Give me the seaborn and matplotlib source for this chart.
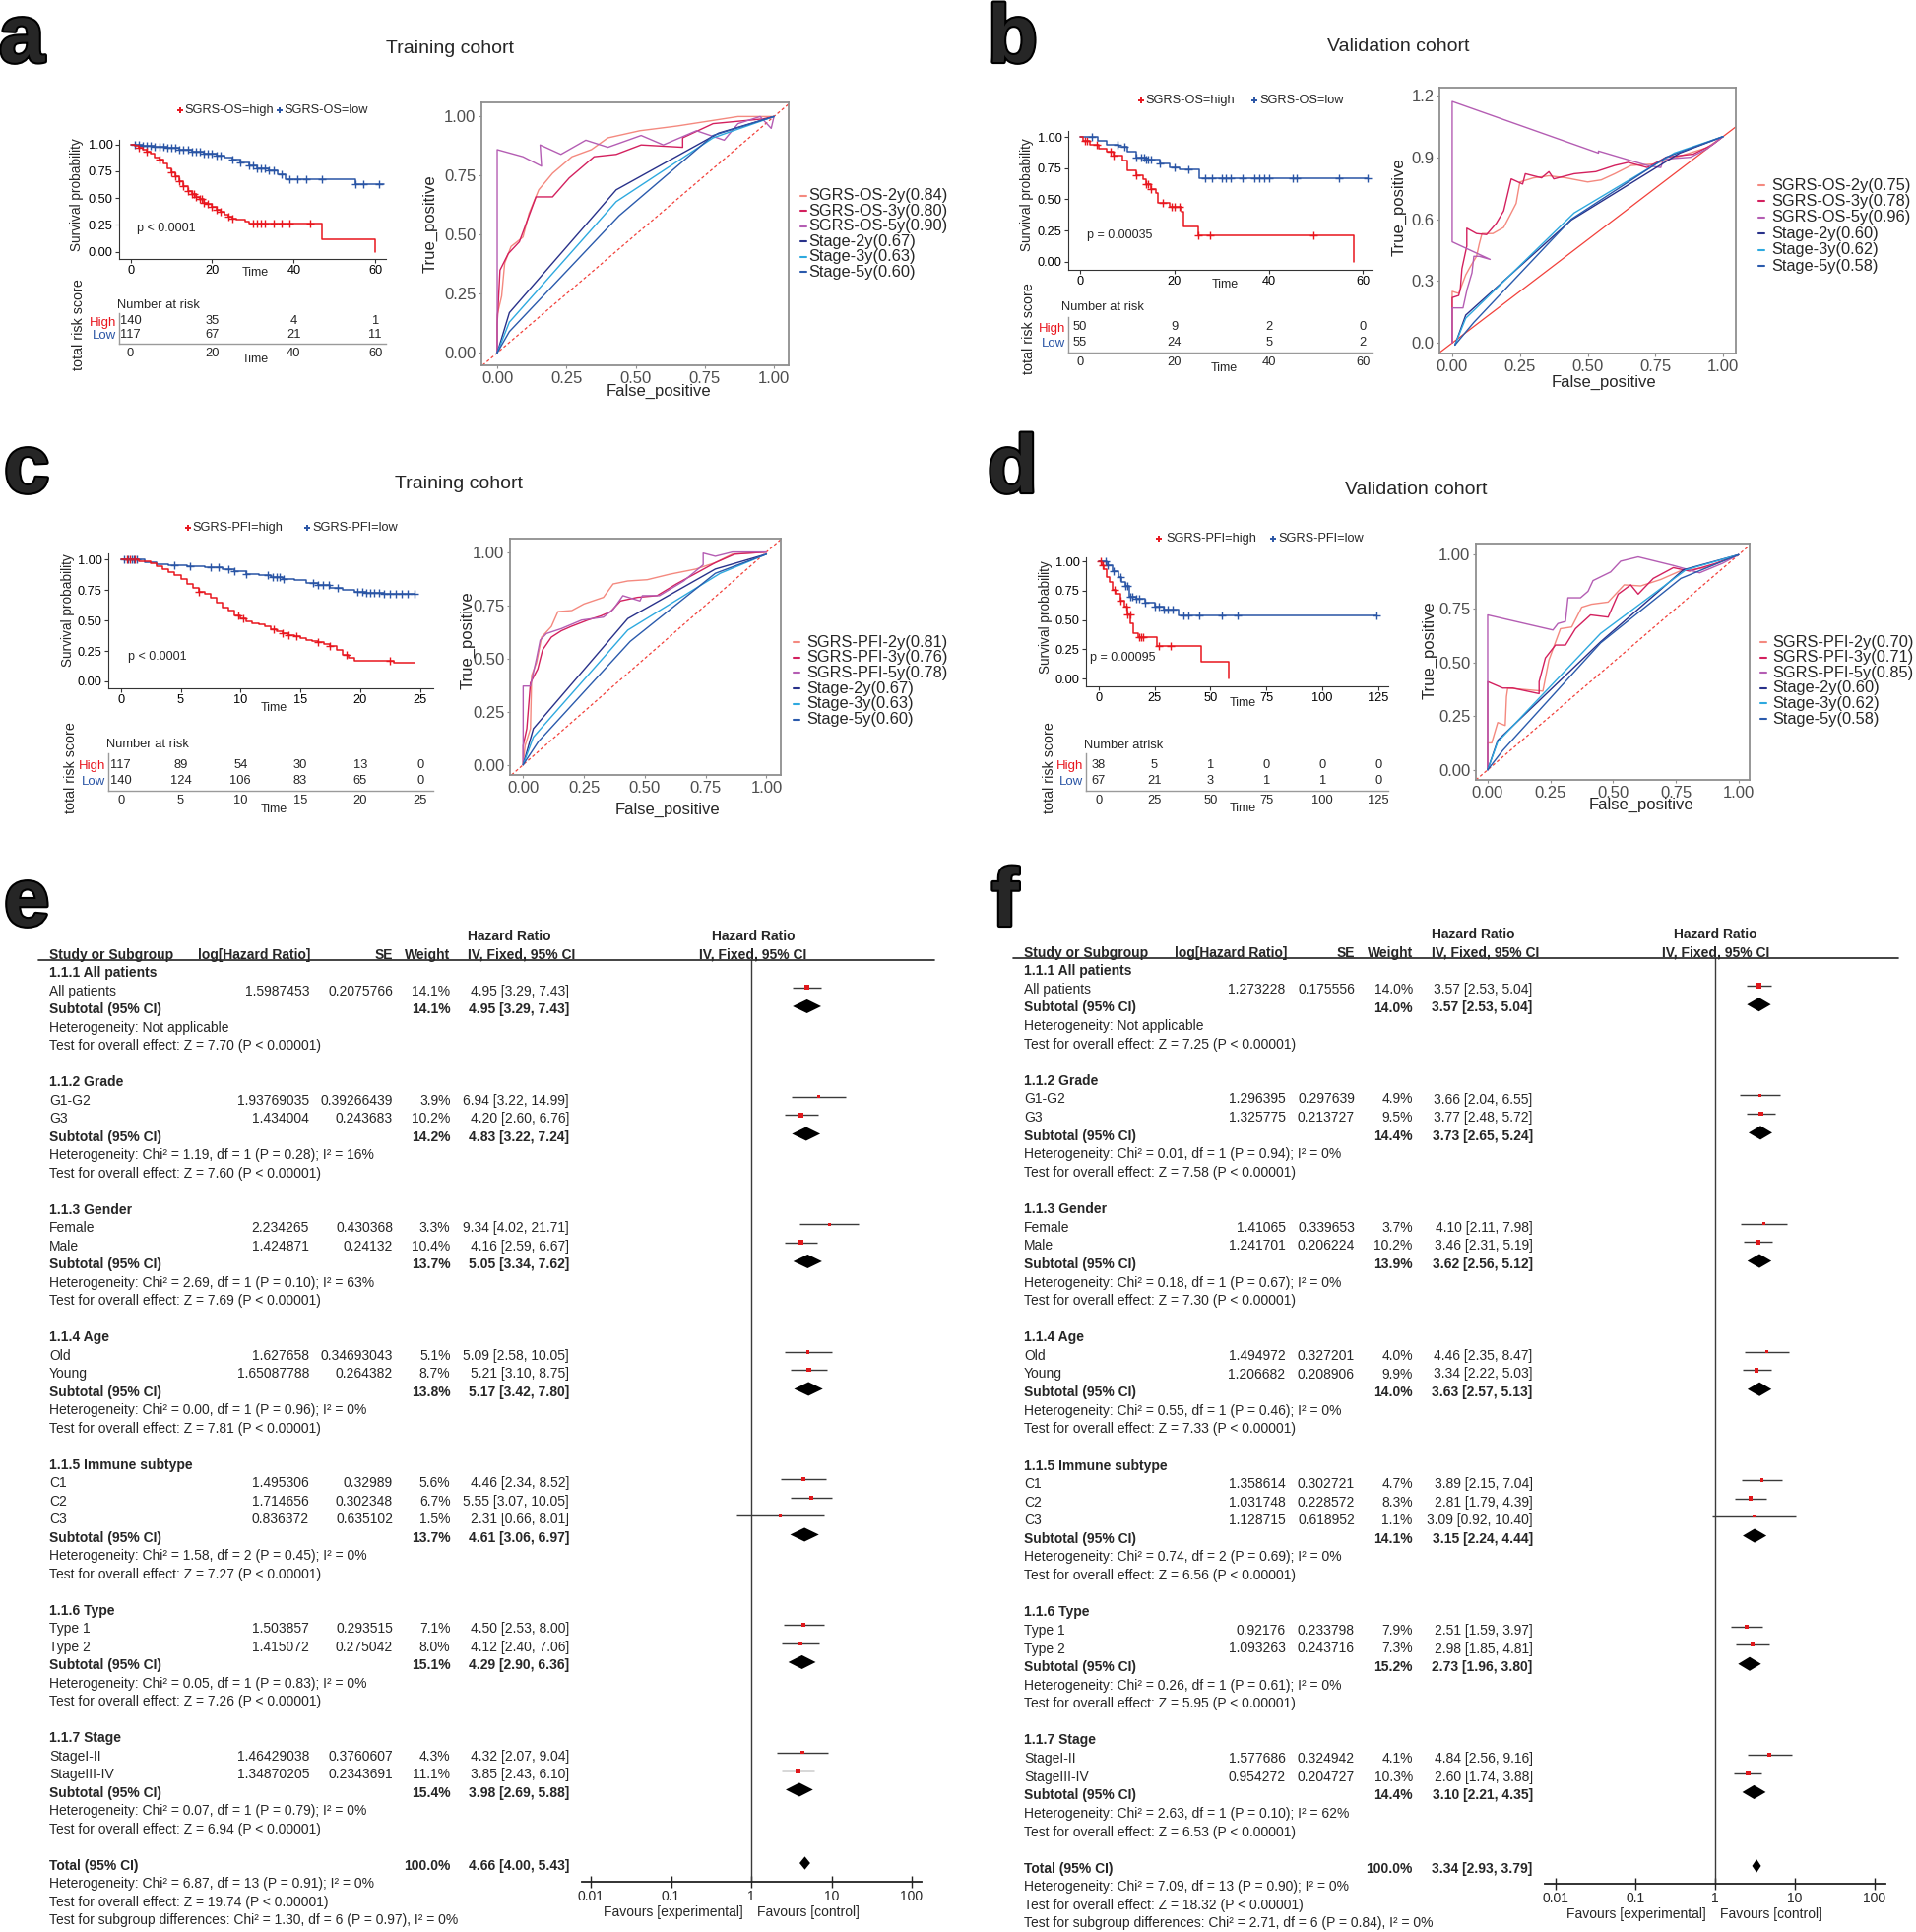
import numpy as np
import matplotlib
matplotlib.use("Agg")
import matplotlib.pyplot as plt
import matplotlib.patheffects as pe
from matplotlib.lines import Line2D
import seaborn as sns

sns.set_theme(style="white")
plt.rcParams["font.family"] = ["Liberation Sans", "DejaVu Sans"]

# ----------- KM DATA ----------------------------------
a_hi_t = [0, 1, 2, 3, 4, 5, 6, 7, 8, 9, 10, 11, 12, 13, 14, 15, 16, 17, 18, 19, 20, 21, 22, 23, 24, 25, 26, 28, 29, 47, 60]
a_hi_s = [1.0, 0.99, 0.97, 0.95, 0.93, 0.91, 0.88, 0.86, 0.82, 0.78, 0.74, 0.70, 0.66, 0.61, 0.57, 0.54, 0.51, 0.49, 0.46, 0.45, 0.42, 0.39, 0.37, 0.35, 0.33, 0.31, 0.30, 0.28, 0.26, 0.12, 0.0]
a_hi_c = [2, 4, 7, 10, 11, 12, 13, 14, 15, 15.5, 16, 17, 17.5, 18, 19, 20, 21, 22, 24, 25, 30, 31, 32, 33, 35, 37, 39, 44]
a_lo_t = [0, 3, 6, 9, 12, 15, 18, 21, 23, 25, 27, 29, 31, 34, 36, 38, 55, 62]
a_lo_s = [1.0, 0.99, 0.98, 0.97, 0.95, 0.93, 0.91, 0.90, 0.88, 0.86, 0.83, 0.80, 0.78, 0.76, 0.72, 0.68, 0.63, 0.63]
a_lo_c = [1, 2, 3, 4, 5, 6, 7, 8, 9, 10, 11, 12, 13, 14, 15, 16, 17, 18, 19, 20, 21, 22, 25, 27, 29, 30, 31, 32, 33, 34, 35, 37, 39, 41, 43, 47, 55, 57, 61]
a_times = [0, 20, 40, 60]
a_hi_n = [140, 35, 4, 1]
a_lo_n = [117, 67, 21, 11]

b_hi_t = [0, 0.6, 2, 4, 5.7, 7, 8.9, 10, 12, 13.3, 14, 15, 16, 16.5, 19, 21.5, 22, 25, 58]
b_hi_s = [1.0, 0.97, 0.94, 0.91, 0.88, 0.85, 0.81, 0.73, 0.69, 0.66, 0.62, 0.58, 0.55, 0.47, 0.44, 0.40, 0.28, 0.21, 0.0]
b_hi_c = [1, 1.5, 3.5, 6.5, 7, 12, 14, 14.5, 15, 17.5, 19.5, 20, 21, 25, 27.5, 49.5]
b_lo_t = [0, 3.8, 5.7, 8.2, 10.1, 12, 14, 17, 19, 21, 25.3, 61]
b_lo_s = [1.0, 0.97, 0.94, 0.92, 0.88, 0.84, 0.82, 0.79, 0.76, 0.74, 0.67, 0.67]
b_lo_c = [2.5, 8, 9.5, 12, 13, 13.5, 14, 14.5, 15, 17, 20, 23, 26.5, 28, 30, 31, 32, 34.5, 37, 38, 39, 40, 45, 46, 55, 61]
b_times = [0, 20, 40, 60]
b_hi_n = [50, 9, 2, 0]
b_lo_n = [55, 24, 5, 2]

c_hi_t = [0, 1, 1.5, 2, 2.5, 3, 3.5, 4, 4.5, 5, 5.5, 6, 6.5, 7, 7.5, 8, 8.5, 9, 9.5, 10, 10.5, 11, 11.5, 12, 12.5, 13, 13.5, 14, 14.5, 15, 15.5, 16, 16.5, 17, 17.5, 18, 18.5, 19, 19.5, 22.8, 24.5]
c_hi_s = [1.0, 1.0, 0.99, 0.985, 0.97, 0.95, 0.92, 0.90, 0.87, 0.84, 0.80, 0.77, 0.74, 0.72, 0.69, 0.65, 0.61, 0.58, 0.54, 0.52, 0.49, 0.48, 0.47, 0.45, 0.43, 0.41, 0.40, 0.38, 0.37, 0.355, 0.34, 0.33, 0.32, 0.31, 0.29, 0.26, 0.22, 0.19, 0.17, 0.15, 0.15]
c_hi_c = [0.5, 0.8, 1.2, 6.5, 9.8, 10.2, 12.8, 13.5, 14.0, 14.7, 16.5, 17.5, 18.9, 22.5]
c_lo_t = [0, 2, 3, 4, 5.5, 7, 8.5, 9.5, 10.5, 11.5, 12.5, 13.5, 14.5, 15.5, 16.5, 17.5, 18.5, 19.5, 20.5, 22, 24.5]
c_lo_s = [1.0, 0.98, 0.96, 0.955, 0.95, 0.935, 0.92, 0.905, 0.885, 0.875, 0.86, 0.845, 0.83, 0.81, 0.79, 0.77, 0.75, 0.74, 0.725, 0.72, 0.72]
c_lo_c = [0.3, 0.6, 0.9, 1.1, 1.3, 4.5, 5.8, 7.5, 8.2, 9.0, 9.5, 10.5, 12.3, 12.7, 13.0, 13.3, 13.6, 16.1, 16.5, 16.9, 17.4, 18.1, 19.8, 20.2, 20.5, 20.8, 21.2, 21.6, 22.0, 22.5, 23.0, 23.5, 24.0, 24.5]
c_times = [0, 5, 10, 15, 20, 25]
c_hi_n = [117, 89, 54, 30, 13, 0]
c_lo_n = [140, 124, 106, 83, 65, 0]

d_hi_t = [0, 1.6, 2.4, 3.7, 5, 6.4, 7.7, 9.9, 11.7, 13, 14.4, 15.7, 17.9, 26, 46, 58]
d_hi_s = [1.0, 0.97, 0.93, 0.87, 0.82, 0.76, 0.72, 0.66, 0.61, 0.55, 0.47, 0.39, 0.355, 0.28, 0.14, 0.0]
d_hi_c = [1, 2, 7, 10, 12.5, 13, 14, 18, 19, 20, 27, 32]
d_lo_t = [0, 3.7, 6.4, 9, 10.4, 12, 13.9, 17, 21, 25, 29, 35.7, 124]
d_lo_s = [1.0, 0.97, 0.92, 0.87, 0.82, 0.79, 0.70, 0.68, 0.65, 0.61, 0.59, 0.54, 0.54]
d_lo_c = [3, 4, 6.5, 10, 12, 13, 14, 15, 17, 18, 21, 25, 27, 29, 31, 33, 38, 40, 45, 55, 62, 124]
d_times = [0, 25, 50, 75, 100, 125]
d_hi_n = [38, 5, 1, 0, 0, 0]
d_lo_n = [67, 21, 3, 1, 1, 0]

# ----------- ROC DATA ------------
a_roc = [
    ([0, 0, 0.016, 0.027, 0.05, 0.093, 0.115, 0.15, 0.2, 0.27, 0.34, 0.40, 0.515, 0.65, 0.76, 0.87, 1.0],
     [0, 0.16, 0.24, 0.38, 0.45, 0.49, 0.59, 0.69, 0.76, 0.83, 0.86, 0.91, 0.94, 0.96, 0.98, 1.0, 1.0]),
    ([0, 0, 0.01, 0.04, 0.08, 0.14, 0.2, 0.26, 0.35, 0.43, 0.52, 0.67, 0.67, 0.78, 0.87, 0.96, 1.0],
     [0, 0.12, 0.35, 0.42, 0.47, 0.66, 0.66, 0.74, 0.83, 0.84, 0.88, 0.87, 0.91, 0.97, 0.98, 0.99, 1.0]),
    ([0, 0, 0.093, 0.16, 0.155, 0.23, 0.32, 0.40, 0.52, 0.60, 0.72, 0.82, 0.87, 0.95, 0.99, 1.0],
     [0, 0.86, 0.83, 0.79, 0.88, 0.84, 0.90, 0.87, 0.92, 0.88, 0.94, 0.90, 0.97, 1.0, 0.95, 1.0]),
    ([0, 0.044, 0.43, 0.80, 1.0], [0, 0.17, 0.69, 0.93, 1.0]),
    ([0, 0.044, 0.43, 0.78, 1.0], [0, 0.13, 0.64, 0.91, 1.0]),
    ([0, 0.044, 0.44, 0.78, 1.0], [0, 0.09, 0.58, 0.92, 1.0]),
]
a_roc_labels = ["SGRS-OS-2y(0.84)", "SGRS-OS-3y(0.80)", "SGRS-OS-5y(0.90)", "Stage-2y(0.67)", "Stage-3y(0.63)", "Stage-5y(0.60)"]

b_roc = [
    ([0, 0, 0.024, 0.03, 0.05, 0.067, 0.09, 0.10, 0.11, 0.15, 0.19, 0.21, 0.236, 0.25, 0.30, 0.357, 0.42, 0.50, 0.55, 0.60, 0.66, 0.745, 0.84, 0.94, 1.0],
     [0, 0.25, 0.24, 0.26, 0.33, 0.37, 0.42, 0.48, 0.53, 0.53, 0.56, 0.61, 0.676, 0.78, 0.80, 0.81, 0.80, 0.78, 0.79, 0.82, 0.86, 0.867, 0.905, 0.946, 1.0]),
    ([0, 0, 0.024, 0.03, 0.036, 0.054, 0.054, 0.09, 0.127, 0.163, 0.19, 0.218, 0.26, 0.27, 0.33, 0.357, 0.375, 0.45, 0.53, 0.60, 0.65, 0.72, 0.79, 0.89, 0.96, 1.0],
     [0, 0.22, 0.23, 0.26, 0.36, 0.47, 0.556, 0.53, 0.525, 0.58, 0.64, 0.795, 0.77, 0.82, 0.80, 0.83, 0.795, 0.82, 0.83, 0.86, 0.875, 0.85, 0.90, 0.915, 0.96, 1.0]),
    ([0, 0, 0.04, 0.055, 0.073, 0.08, 0.10, 0.14, 0, 0, 0.54, 0.54, 0.72, 0.77, 0.78, 0.88, 0.94, 1.0],
     [0, 0.17, 0.17, 0.26, 0.34, 0.42, 0.42, 0.405, 0.49, 1.17, 0.92, 0.93, 0.86, 0.85, 0.89, 0.90, 0.94, 1.0]),
    ([0.01, 0.05, 0.44, 0.84, 1.0], [-0.01, 0.135, 0.596, 0.92, 1.0]),
    ([0.01, 0.05, 0.45, 0.82, 1.0], [-0.01, 0.12, 0.63, 0.92, 1.0]),
    ([0.01, 0.08, 0.44, 0.79, 1.0], [-0.01, 0.10, 0.60, 0.90, 1.0]),
]
b_roc_labels = ["SGRS-OS-2y(0.75)", "SGRS-OS-3y(0.78)", "SGRS-OS-5y(0.96)", "Stage-2y(0.60)", "Stage-3y(0.62)", "Stage-5y(0.58)"]

c_roc = [
    ([0, 0.008, 0.03, 0.035, 0.055, 0.076, 0.116, 0.143, 0.2, 0.25, 0.33, 0.37, 0.43, 0.51, 0.60, 0.71, 0.79, 0.86, 1.0],
     [0, 0.09, 0.17, 0.42, 0.48, 0.60, 0.65, 0.72, 0.725, 0.756, 0.787, 0.85, 0.864, 0.87, 0.895, 0.92, 0.95, 0.99, 1.0]),
    ([0, 0, 0.015, 0.03, 0.06, 0.08, 0.116, 0.157, 0.197, 0.265, 0.32, 0.36, 0.40, 0.47, 0.55, 0.63, 0.71, 0.79, 0.87, 1.0],
     [0, 0.09, 0.17, 0.385, 0.45, 0.54, 0.60, 0.63, 0.65, 0.68, 0.70, 0.72, 0.77, 0.787, 0.795, 0.85, 0.90, 0.95, 0.99, 1.0]),
    ([0, 0, 0.03, 0.055, 0.07, 0.096, 0.157, 0.24, 0.33, 0.37, 0.41, 0.48, 0.49, 0.56, 0.66, 0.74, 0.74, 0.79, 0.86, 1.0],
     [0, 0.37, 0.37, 0.50, 0.586, 0.617, 0.64, 0.68, 0.694, 0.73, 0.795, 0.77, 0.795, 0.795, 0.864, 0.94, 0.995, 0.98, 1.0, 1.0]),
    ([0, 0.042, 0.43, 0.79, 1.0], [0, 0.17, 0.687, 0.92, 0.99]),
    ([0, 0.042, 0.43, 0.81, 1.0], [0, 0.13, 0.633, 0.90, 0.99]),
    ([0, 0.062, 0.44, 0.79, 1.0], [0, 0.108, 0.58, 0.90, 0.99]),
]
c_roc_labels = ["SGRS-PFI-2y(0.81)", "SGRS-PFI-3y(0.76)", "SGRS-PFI-5y(0.78)", "Stage-2y(0.67)", "Stage-3y(0.63)", "Stage-5y(0.60)"]

d_roc = [
    ([0, 0, 0.016, 0.04, 0.07, 0.075, 0.08, 0.14, 0.22, 0.244, 0.29, 0.335, 0.375, 0.414, 0.48, 0.544, 0.61, 0.69, 0.766, 0.87, 1.0],
     [0, 0.125, 0.125, 0.22, 0.206, 0.34, 0.38, 0.374, 0.366, 0.51, 0.656, 0.664, 0.756, 0.77, 0.78, 0.86, 0.855, 0.885, 0.924, 0.94, 1.0]),
    ([0, 0, 0.06, 0.10, 0.205, 0.205, 0.23, 0.27, 0.31, 0.35, 0.41, 0.48, 0.52, 0.57, 0.60, 0.66, 0.74, 0.805, 0.91, 1.0],
     [0, 0.41, 0.38, 0.38, 0.354, 0.41, 0.52, 0.58, 0.58, 0.656, 0.72, 0.71, 0.817, 0.86, 0.817, 0.89, 0.94, 0.924, 0.96, 1.0]),
    ([0, 0, 0.26, 0.28, 0.31, 0.32, 0.37, 0.40, 0.42, 0.49, 0.53, 0.60, 0.74, 0.845, 0.936, 1.0],
     [0, 0.72, 0.65, 0.68, 0.69, 0.80, 0.80, 0.83, 0.88, 0.92, 0.97, 0.99, 0.95, 0.916, 0.96, 1.0]),
    ([0, 0.04, 0.45, 0.78, 1.0], [0, 0.137, 0.595, 0.93, 1.0]),
    ([0, 0.04, 0.45, 0.79, 1.0], [0, 0.13, 0.634, 0.93, 1.0]),
    ([0, 0.06, 0.45, 0.77, 1.0], [0, 0.09, 0.59, 0.89, 1.0]),
]
d_roc_labels = ["SGRS-PFI-2y(0.70)", "SGRS-PFI-3y(0.71)", "SGRS-PFI-5y(0.85)", "Stage-2y(0.60)", "Stage-3y(0.62)", "Stage-5y(0.58)"]

# ----------- FOREST DATA ------------
e_groups = ["1.1.1 All patients", "1.1.2 Grade", "1.1.3 Gender", "1.1.4 Age", "1.1.5 Immune subtype", "1.1.6 Type", "1.1.7 Stage"]
e_studies = [["All patients"], ["G1-G2", "G3"], ["Female", "Male"], ["Old", "Young"], ["C1", "C2", "C3"], ["Type 1", "Type 2"], ["StageI-II", "StageIII-IV"]]
e_loghr = [[1.5987453], [1.93769035, 1.434004], [2.234265, 1.424871], [1.627658, 1.65087788], [1.495306, 1.714656, 0.836372], [1.503857, 1.415072], [1.46429038, 1.34870205]]
e_se = [[0.2075766], [0.39266439, 0.243683], [0.430368, 0.24132], [0.34693043, 0.264382], [0.32989, 0.302348, 0.635102], [0.293515, 0.275042], [0.3760607, 0.2343691]]
e_weight = [[14.1], [3.9, 10.2], [3.3, 10.4], [5.1, 8.7], [5.6, 6.7, 1.5], [7.1, 8.0], [4.3, 11.1]]
e_hr = [[(4.95, 3.29, 7.43)], [(6.94, 3.22, 14.99), (4.20, 2.60, 6.76)], [(9.34, 4.02, 21.71), (4.16, 2.59, 6.67)],
        [(5.09, 2.58, 10.05), (5.21, 3.10, 8.75)], [(4.46, 2.34, 8.52), (5.55, 3.07, 10.05), (2.31, 0.66, 8.01)],
        [(4.50, 2.53, 8.00), (4.12, 2.40, 7.06)], [(4.32, 2.07, 9.04), (3.85, 2.43, 6.10)]]
e_sub_weight = [14.1, 14.2, 13.7, 13.8, 13.7, 15.1, 15.4]
e_sub_hr = [(4.95, 3.29, 7.43), (4.83, 3.22, 7.24), (5.05, 3.34, 7.62), (5.17, 3.42, 7.80), (4.61, 3.06, 6.97), (4.29, 2.90, 6.36), (3.98, 2.69, 5.88)]
e_het = ["Not applicable", "Chi² = 1.19, df = 1 (P = 0.28); I² = 16%", "Chi² = 2.69, df = 1 (P = 0.10); I² = 63%",
         "Chi² = 0.00, df = 1 (P = 0.96); I² = 0%", "Chi² = 1.58, df = 2 (P = 0.45); I² = 0%",
         "Chi² = 0.05, df = 1 (P = 0.83); I² = 0%", "Chi² = 0.07, df = 1 (P = 0.79); I² = 0%"]
e_z = ["7.70", "7.60", "7.69", "7.81", "7.27", "7.26", "6.94"]
e_total = (4.66, 4.00, 5.43)
e_total_het = "Chi² = 6.87, df = 13 (P = 0.91); I² = 0%"
e_total_z = "19.74"
e_subgroup_test = "Chi² = 1.30, df = 6 (P = 0.97), I² = 0%"

f_groups = e_groups
f_studies = e_studies
f_loghr = [[1.273228], [1.296395, 1.325775], [1.41065, 1.241701], [1.494972, 1.206682], [1.358614, 1.031748, 1.128715], [0.92176, 1.093263], [1.577686, 0.954272]]
f_se = [[0.175556], [0.297639, 0.213727], [0.339653, 0.206224], [0.327201, 0.208906], [0.302721, 0.228572, 0.618952], [0.233798, 0.243716], [0.324942, 0.204727]]
f_weight = [[14.0], [4.9, 9.5], [3.7, 10.2], [4.0, 9.9], [4.7, 8.3, 1.1], [7.9, 7.3], [4.1, 10.3]]
f_hr = [[(3.57, 2.53, 5.04)], [(3.66, 2.04, 6.55), (3.77, 2.48, 5.72)], [(4.10, 2.11, 7.98), (3.46, 2.31, 5.19)],
        [(4.46, 2.35, 8.47), (3.34, 2.22, 5.03)], [(3.89, 2.15, 7.04), (2.81, 1.79, 4.39), (3.09, 0.92, 10.40)],
        [(2.51, 1.59, 3.97), (2.98, 1.85, 4.81)], [(4.84, 2.56, 9.16), (2.60, 1.74, 3.88)]]
f_sub_weight = [14.0, 14.4, 13.9, 14.0, 14.1, 15.2, 14.4]
f_sub_hr = [(3.57, 2.53, 5.04), (3.73, 2.65, 5.24), (3.62, 2.56, 5.12), (3.63, 2.57, 5.13), (3.15, 2.24, 4.44), (2.73, 1.96, 3.80), (3.10, 2.21, 4.35)]
f_het = ["Not applicable", "Chi² = 0.01, df = 1 (P = 0.94); I² = 0%", "Chi² = 0.18, df = 1 (P = 0.67); I² = 0%",
         "Chi² = 0.55, df = 1 (P = 0.46); I² = 0%", "Chi² = 0.74, df = 2 (P = 0.69); I² = 0%",
         "Chi² = 0.26, df = 1 (P = 0.61); I² = 0%", "Chi² = 2.63, df = 1 (P = 0.10); I² = 62%"]
f_z = ["7.25", "7.58", "7.30", "7.33", "6.56", "5.95", "6.53"]
f_total = (3.34, 2.93, 3.79)
f_total_het = "Chi² = 7.09, df = 13 (P = 0.90); I² = 0%"
f_total_z = "18.32"
f_subgroup_test = "Chi² = 2.71, df = 6 (P = 0.84), I² = 0%"

# ----------- STYLE ------------
RED = "#E8161E"
BLUE = "#2A55A5"
ROC_COLORS = ["#F4897F", "#D3205E", "#B45DB3", "#28318A", "#2EA9DF", "#2A5AAC"]
GRAY_TXT = "#4D4D4D"

W, H = 1946, 1962
fig = plt.figure(figsize=(W / 100, H / 100), dpi=100)


def px_ax(x0, y0, x1, y1):
    return fig.add_axes([x0 / W, 1 - y1 / H, (x1 - x0) / W, (y1 - y0) / H])


def ftext(x, y, s, **kw):
    kw.setdefault("va", "center")
    return fig.text(x / W, 1 - y / H, s, **kw)


def fline(xs, ys, **kw):
    fig.add_artist(Line2D([x / W for x in xs], [1 - y / H for y in ys], transform=fig.transFigure, **kw))


def fmark(x, y, **kw):
    fig.add_artist(Line2D([x / W], [1 - y / H], transform=fig.transFigure, **kw))


def step_at(t, s, ct):
    idx = np.searchsorted(np.asarray(t), np.asarray(ct), side="right") - 1
    return np.asarray(s)[idx]


# ----------- KM PANEL -------------

def draw_km(L, hi_t, hi_s, hi_c, lo_t, lo_s, lo_c, times, hi_n, lo_n, names, pval, nar_text):
    ax = px_ax(*L["box"])
    for t, s, c, col in [(lo_t, lo_s, lo_c, BLUE), (hi_t, hi_s, hi_c, RED)]:
        sns.lineplot(x=t, y=s, drawstyle="steps-post", estimator=None, sort=False,
                     color=col, lw=1.1, ax=ax)
        sns.scatterplot(x=c, y=step_at(t, s, c), marker="+", s=32, color=col,
                        linewidth=1.0, legend=False, ax=ax)
    ax.set_xlim(*L["xlim"])
    ax.set_ylim(*L["ylim"])
    ax.set_xticks(times)
    ax.set_xticklabels([str(t) for t in times])
    ax.set_yticks([0, 0.25, 0.5, 0.75, 1.0])
    ax.set_yticklabels(["0.00", "0.25", "0.50", "0.75", "1.00"])
    ax.set_xlabel("")
    ax.set_ylabel("")
    for sp in ["top", "right"]:
        ax.spines[sp].set_visible(False)
    for sp in ["left", "bottom"]:
        ax.spines[sp].set_color("#333333")
        ax.spines[sp].set_linewidth(0.8)
    ax.tick_params(bottom=True, left=True, length=3, width=0.8, color="#333333",
                   labelsize=9.2, pad=1.5, labelcolor="black")

    ftext(*L["ylab"], "Survival probability", fontsize=9.8, rotation=90, ha="center")
    ftext(*L["time"], "Time", fontsize=9, ha="center")
    ftext(*L["p"], pval, fontsize=9, ha="left")

    # legend on top
    ly, xr, xrt, xb, xbt = L["leg"]
    fmark(xr, ly, marker="+", ms=5, mew=1.4, color=RED)
    ftext(xrt, ly, names[0], fontsize=9.2, ha="left")
    fmark(xb, ly, marker="+", ms=5, mew=1.4, color=BLUE)
    ftext(xbt, ly, names[1], fontsize=9.2, ha="left")

    # risk table
    x0, y0, x1, y1 = L["tab"]
    tx = px_ax(x0, y0, x1, y1)
    tx.set_xlim(*L["xlim"])
    tx.set_ylim(y1, y0)
    yh, yl = L["rows"]
    for t, n in zip(times, hi_n):
        tx.text(t, yh, str(n), ha="center", va="center", fontsize=9.3)
    for t, n in zip(times, lo_n):
        tx.text(t, yl, str(n), ha="center", va="center", fontsize=9.3)
    tx.set_xticks(times)
    tx.set_xticklabels([str(t) for t in times])
    tx.set_yticks([yh, yl])
    tx.set_yticklabels(["High", "Low"])
    tx.get_yticklabels()[0].set_color(RED)
    tx.get_yticklabels()[1].set_color(BLUE)
    for sp in ["top", "right"]:
        tx.spines[sp].set_visible(False)
    for sp in ["left", "bottom"]:
        tx.spines[sp].set_color("#9A9A9A")
        tx.spines[sp].set_linewidth(1.0)
    tx.tick_params(axis="x", bottom=True, length=0, labelsize=9.3, pad=3)
    tx.tick_params(axis="y", left=False, length=0, labelsize=9.5, pad=2)
    ftext(*L["nar"], nar_text, fontsize=9.3, ha="left")
    ftext(*L["ttime"], "Time", fontsize=9, ha="center")
    ftext(*L["tylab"], "total risk score", fontsize=10.3, rotation=90, ha="center")


# ----------- ROC PANEL -------------

def draw_roc(R, curves, labels, yticks, ylabels, dashed=True):
    ax = px_ax(*R["box"])
    ax.axline((0, 0), (1, 1), color="#F2403A", lw=0.9, ls=(0, (2.5, 2)) if dashed else "-")
    for (fx, ty), col in zip(curves, ROC_COLORS):
        sns.lineplot(x=fx, y=ty, sort=False, estimator=None, color=col, lw=1.0, ax=ax)
    ax.set_xlim(*R["xlim"])
    ax.set_ylim(*R["ylim"])
    ax.set_xticks([0, 0.25, 0.5, 0.75, 1.0])
    ax.set_xticklabels(["0.00", "0.25", "0.50", "0.75", "1.00"])
    ax.set_yticks(yticks)
    ax.set_yticklabels(ylabels)
    ax.set_xlabel("")
    ax.set_ylabel("")
    for sp in ax.spines.values():
        sp.set_color("#8F8F8F")
        sp.set_linewidth(1.3)
    ax.tick_params(bottom=True, left=True, length=2.5, width=0.8, color="#8F8F8F",
                   labelsize=12, labelcolor=GRAY_TXT, pad=1.5)
    ftext(*R["ylab"], "True_positive", fontsize=12, rotation=90, ha="center")
    ftext(*R["xlab"], "False_positive", fontsize=12, ha="center")
    d0, d1, tx0, ly0, dly = R["leg"]
    for i, (lab, col) in enumerate(zip(labels, ROC_COLORS)):
        y = ly0 + dly * i
        fline([d0, d1], [y, y], color=col, lw=1.5)
        ftext(tx0, y, lab, fontsize=11.8, ha="left")


# ----------- FOREST PANEL -------------

def diamond(ax, h, lo, hi, y, hh):
    ax.fill([lo, h, hi, h], [y, y - hh, y, y + hh], color="black", lw=0)


def draw_forest(F, groups, studies, loghr, se, weight, hr, sub_w, sub_hr, het, z,
                total, total_het, total_z, subgroup):
    y0, dy = F["y0"], F["dy"]

    def ry(r):
        return y0 + dy * r

    fs = 10
    lx = F["label_x"]
    ftext(F["hr_l"], ry(-2), "Hazard Ratio", fontsize=fs, weight="bold")
    ftext(F["rhead_x"], ry(-2), "Hazard Ratio", fontsize=fs, weight="bold", ha="center")
    ftext(lx, ry(-1), "Study or Subgroup", fontsize=fs, weight="bold")
    ftext(F["log_l"], ry(-1), "log[Hazard Ratio]", fontsize=fs, weight="bold")
    ftext(F["se_r"], ry(-1), "SE", fontsize=fs, weight="bold", ha="right")
    ftext(F["w_r"], ry(-1), "Weight", fontsize=fs, weight="bold", ha="right")
    ftext(F["hr_l"], ry(-1), "IV, Fixed, 95% CI", fontsize=fs, weight="bold")
    ftext(F["rhead_x"], ry(-1), "IV, Fixed, 95% CI", fontsize=fs, weight="bold", ha="center")
    hx0, hx1, hy = F["hline"]
    fline([hx0, hx1], [hy, hy], color="#222222", lw=1.2)

    L, T, R, B = F["ax"]
    ax = px_ax(L, T, R, B)
    ax.set_xscale("log")
    ax.set_xlim(10 ** ((L - F["one_x"]) / F["dec"]), 10 ** ((R - F["one_x"]) / F["dec"]))
    ax.set_ylim((B - y0) / dy, (T - y0) / dy)

    st_y, st_h, st_lo, st_hi, st_w = [], [], [], [], []
    r = 0
    for g in range(len(groups)):
        ftext(lx, ry(r), groups[g], fontsize=fs, weight="bold")
        for k, name in enumerate(studies[g]):
            rr = r + 1 + k
            h, lo, hi = hr[g][k]
            ftext(lx, ry(rr), name, fontsize=fs)
            ftext(F["log_r"], ry(rr), repr(loghr[g][k]), fontsize=fs, ha="right")
            ftext(F["se_r"], ry(rr), repr(se[g][k]), fontsize=fs, ha="right")
            ftext(F["w_r"], ry(rr), f"{weight[g][k]:.1f}%", fontsize=fs, ha="right")
            ftext(F["ci_r"], ry(rr), f"{h:.2f} [{lo:.2f}, {hi:.2f}]", fontsize=fs, ha="right")
            st_y.append(rr - 0.22)
            st_h.append(h)
            st_lo.append(lo)
            st_hi.append(hi)
            st_w.append(weight[g][k])
        rs = r + 1 + len(studies[g])
        h, lo, hi = sub_hr[g]
        ftext(lx, ry(rs), "Subtotal (95% CI)", fontsize=fs, weight="bold")
        ftext(F["w_r"], ry(rs), f"{sub_w[g]:.1f}%", fontsize=fs, weight="bold", ha="right")
        ftext(F["ci_r"], ry(rs), f"{h:.2f} [{lo:.2f}, {hi:.2f}]", fontsize=fs, weight="bold", ha="right")
        diamond(ax, h, lo, hi, rs - 0.18, 0.38)
        ftext(lx, ry(rs + 1), "Heterogeneity: " + het[g], fontsize=fs)
        ftext(lx, ry(rs + 2), f"Test for overall effect: Z = {z[g]} (P < 0.00001)", fontsize=fs)
        r = rs + 4

    h, lo, hi = total
    ftext(lx, ry(r), "Total (95% CI)", fontsize=fs, weight="bold")
    ftext(F["w_r"], ry(r), "100.0%", fontsize=fs, weight="bold", ha="right")
    ftext(F["ci_r"], ry(r), f"{h:.2f} [{lo:.2f}, {hi:.2f}]", fontsize=fs, weight="bold", ha="right")
    diamond(ax, h, lo, hi, r - 0.15, 0.36)
    ftext(lx, ry(r + 1), "Heterogeneity: " + total_het, fontsize=fs)
    ftext(lx, ry(r + 2), f"Test for overall effect: Z = {total_z} (P < 0.00001)", fontsize=fs)
    ftext(lx, ry(r + 3), "Test for subgroup differences: " + subgroup, fontsize=fs)

    ax.hlines(st_y, st_lo, st_hi, color="#3A3A3A", lw=1.0)
    sns.scatterplot(x=st_h, y=st_y, size=st_w, sizes=(3, 16), size_norm=(1, 15), marker="s",
                    color="#E0181B", edgecolor="none", linewidth=0, legend=False, ax=ax, zorder=3)
    ax.axvline(1, color="#3A3A3A", lw=1.0)

    for sp in ["top", "right", "left"]:
        ax.spines[sp].set_visible(False)
    ax.spines["bottom"].set_color("#222222")
    ax.spines["bottom"].set_linewidth(1.3)
    ax.set_xticks([0.01, 0.1, 1, 10, 100])
    ax.set_xticklabels(["0.01", "0.1", "1", "10", "100"])
    ax.xaxis.set_minor_locator(matplotlib.ticker.NullLocator())
    ax.set_yticks([])
    ax.set_xlabel("")
    ax.set_ylabel("")
    ax.tick_params(axis="x", bottom=True, direction="inout", length=8, width=1.0,
                   color="#222222", labelsize=fs, pad=2)
    ax.patch.set_alpha(0)
    fr, fc, fy = F["fav"]
    ftext(fr, fy, "Favours [experimental]", fontsize=fs, ha="right")
    ftext(fc, fy, "Favours [control]", fontsize=fs, ha="left")


# ----------- LAYOUT (pixel positions) -------------
KM_A = dict(box=(121, 142, 392, 263), xlim=(-2.8, 62.6), ylim=(-0.067, 1.043),
            ylab=(78, 198), time=(259, 277), p=(139, 232), leg=(112, 183, 187, 284, 288),
            tab=(121, 318, 392, 349), rows=(326, 340), nar=(119, 310), ttime=(259, 365), tylab=(80, 330))
KM_B = dict(box=(1085, 133, 1394, 274), xlim=(-2.5, 62.0), ylim=(-0.066, 1.05),
            ylab=(1043, 198), time=(1244, 289), p=(1104, 239), leg=(102, 1159, 1163, 1274, 1279),
            tab=(1085, 322, 1394, 358), rows=(332, 348), nar=(1078, 312), ttime=(1243, 374), tylab=(1045, 334))
KM_C = dict(box=(110, 562, 440, 699), xlim=(-1.05, 26.1), ylim=(-0.057, 1.052),
            ylab=(69, 620), time=(278, 719), p=(130, 667), leg=(536, 191, 195, 312, 317),
            tab=(110, 765, 440, 803), rows=(777, 793), nar=(108, 756), ttime=(278, 822), tylab=(72, 780))
KM_D = dict(box=(1103, 566, 1410, 697), xlim=(-5.6, 129.4), ylim=(-0.067, 1.034),
            ylab=(1062, 627), time=(1262, 714), p=(1107, 668), leg=(547, 1177, 1184, 1293, 1298),
            tab=(1103, 765, 1410, 803), rows=(777, 793), nar=(1101, 757), ttime=(1262, 821), tylab=(1066, 780))

ROC_A = dict(box=(489, 104, 801, 371), xlim=(-0.057, 1.053), ylim=(-0.053, 1.06),
             ylab=(437, 227), xlab=(669, 397), leg=(813, 819, 821, 199, 15.4))
ROC_B = dict(box=(1462, 89, 1763, 359), xlim=(-0.047, 1.047), ylim=(-0.051, 1.237),
             ylab=(1421, 210), xlab=(1629, 388), leg=(1786, 1792, 1799, 188, 16.4))
ROC_C = dict(box=(518, 547, 793, 787), xlim=(-0.054, 1.059), ylim=(-0.048, 1.063),
             ylab=(475, 650), xlab=(678, 822), leg=(806, 812, 819, 652, 15.7))
ROC_D = dict(box=(1499, 552, 1777, 792), xlim=(-0.047, 1.044), ylim=(-0.047, 1.052),
             ylab=(1452, 660), xlab=(1667, 817), leg=(1788, 1794, 1800, 652, 15.6))

FOR_E = dict(y0=988.3, dy=18.5, label_x=50, log_r=314, se_r=399, w_r=457.5, ci_r=578, hr_l=475,
             log_l=201, rhead_x=765, hline=(39, 949, 975.3), ax=(591, 975.3, 936, 1910.7),
             one_x=763, dec=81.5, fav=(755, 769, 1942))
FOR_F = dict(y0=986.3, dy=18.6, label_x=1040, log_r=1305.6, se_r=1376, w_r=1434.8, ci_r=1556.7,
             hr_l=1453.6, log_l=1193, rhead_x=1742.6, hline=(1029, 1928, 972.7),
             ax=(1569, 972.7, 1914.5, 1912.7), one_x=1741.7, dec=81, fav=(1732.6, 1747, 1944))

# ----------- DRAW -------------
letter_fx = [pe.withStroke(linewidth=3, foreground="black")]
for lab, x, y in [("a", -1, 63), ("b", 1003, 63), ("c", 4, 500), ("d", 1003, 500), ("e", 4, 940), ("f", 1007, 940)]:
    ftext(x, y, lab, fontsize=60, weight="bold", va="baseline", ha="left", path_effects=letter_fx)

ftext(457, 50, "Training cohort", fontsize=14, ha="center")
ftext(1420, 48, "Validation cohort", fontsize=14, ha="center")
ftext(466, 491, "Training cohort", fontsize=14, ha="center")
ftext(1438, 498, "Validation cohort", fontsize=14, ha="center")

draw_km(KM_A, a_hi_t, a_hi_s, a_hi_c, a_lo_t, a_lo_s, a_lo_c, a_times, a_hi_n, a_lo_n,
        ["SGRS-OS=high", "SGRS-OS=low"], "p < 0.0001", "Number at risk")
draw_km(KM_B, b_hi_t, b_hi_s, b_hi_c, b_lo_t, b_lo_s, b_lo_c, b_times, b_hi_n, b_lo_n,
        ["SGRS-OS=high", "SGRS-OS=low"], "p = 0.00035", "Number at risk")
draw_km(KM_C, c_hi_t, c_hi_s, c_hi_c, c_lo_t, c_lo_s, c_lo_c, c_times, c_hi_n, c_lo_n,
        ["SGRS-PFI=high", "SGRS-PFI=low"], "p < 0.0001", "Number at risk")
draw_km(KM_D, d_hi_t, d_hi_s, d_hi_c, d_lo_t, d_lo_s, d_lo_c, d_times, d_hi_n, d_lo_n,
        ["SGRS-PFI=high", "SGRS-PFI=low"], "p = 0.00095", "Number atrisk")

q_ticks = [0, 0.25, 0.5, 0.75, 1.0]
q_labels = ["0.00", "0.25", "0.50", "0.75", "1.00"]
draw_roc(ROC_A, a_roc, a_roc_labels, q_ticks, q_labels)
draw_roc(ROC_B, b_roc, b_roc_labels, [0, 0.3, 0.6, 0.9, 1.2], ["0.0", "0.3", "0.6", "0.9", "1.2"], dashed=False)
draw_roc(ROC_C, c_roc, c_roc_labels, q_ticks, q_labels)
draw_roc(ROC_D, d_roc, d_roc_labels, q_ticks, q_labels)

draw_forest(FOR_E, e_groups, e_studies, e_loghr, e_se, e_weight, e_hr, e_sub_weight, e_sub_hr,
            e_het, e_z, e_total, e_total_het, e_total_z, e_subgroup_test)
draw_forest(FOR_F, f_groups, f_studies, f_loghr, f_se, f_weight, f_hr, f_sub_weight, f_sub_hr,
            f_het, f_z, f_total, f_total_het, f_total_z, f_subgroup_test)

fig.savefig("out.png", dpi=100, facecolor="white")
